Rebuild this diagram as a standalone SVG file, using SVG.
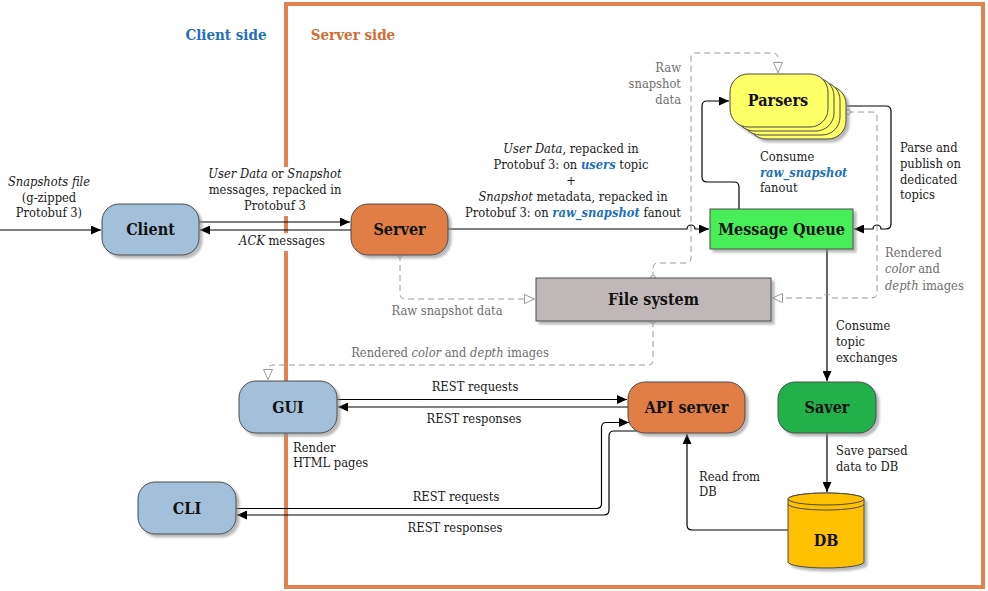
<svg xmlns="http://www.w3.org/2000/svg" width="988" height="591" viewBox="0 0 988 591">
<style>
text{font-family:"DejaVu Serif Condensed","DejaVu Serif",serif;font-stretch:condensed}
.lbl{font-size:12.8px;fill:#1a1a1a}
.gl{font-size:12.8px;fill:#6e6e6e}
.nt{font-size:16px;font-weight:bold;fill:#111;text-anchor:middle}
.ttl{font-size:15px;font-weight:bold}
.mid{text-anchor:middle}
.end{text-anchor:end}
.kw{font-weight:bold;font-style:italic;fill:#1f6fb8}
.node{stroke:#4a4a4a;stroke-width:1}
.blue{fill:#a2c0da}
.orange{fill:#e07e45}
.sol{fill:none;stroke:#000;stroke-width:1.2}
.dash{fill:none;stroke:#9a9a9a;stroke-width:1;stroke-dasharray:6 4}
.dot{fill:#fff;stroke:#9a9a9a;stroke-width:1}
</style>
<defs>
<filter id="sh" x="-10%" y="-10%" width="130%" height="140%">
<feDropShadow dx="3" dy="3" stdDeviation="1" flood-color="#8a8a8a" flood-opacity="0.6"/>
</filter>
<marker id="ah" markerUnits="userSpaceOnUse" markerWidth="11" markerHeight="9" refX="10" refY="4.5" orient="auto">
<path d="M0,0 L10,4.5 L0,9 z" fill="#000"/>
</marker>
<marker id="oh" markerUnits="userSpaceOnUse" markerWidth="12" markerHeight="11" refX="11" refY="5" orient="auto">
<path d="M0.5,0.5 L10.5,5 L0.5,9.5 z" fill="#fff" stroke="#9a9a9a" stroke-width="1"/>
</marker>
</defs>

<rect width="988" height="591" fill="#fff"/>

<g id="server-side-frame">
<path d="M286,167 V4 H983 V587 H286 V251 M286,233 V216" fill="none" stroke="#e2834f" stroke-width="4"/>
<text class="ttl mid" x="226" y="40" fill="#1f70b8">Client side</text>
<text class="ttl mid" x="353" y="40" fill="#d26b35">Server side</text>
</g>

<g id="connectors">
<path class="sol" d="M0,230 H101" marker-end="url(#ah)"/>
<path class="sol" d="M199,222 H350" marker-end="url(#ah)"/>
<path class="sol" d="M351,230 H200" marker-end="url(#ah)"/>
<path class="sol" d="M448,229 H687 A4,4 0 0 1 695,229 H709" marker-end="url(#ah)"/>
<path class="sol" d="M739,209 V187 Q739,182 734,182 H707 Q702,182 702,177 V106 Q702,101 707,101 H729" marker-end="url(#ah)"/>
<path class="sol" d="M847,106 H886 Q891,106 891,111 V224 Q891,229 886,229 H881 A4,4 0 0 0 873,229 H854" marker-end="url(#ah)"/>
<path class="sol" d="M827,249 V381" marker-end="url(#ah)"/>
<path class="sol" d="M827,433 V492" marker-end="url(#ah)"/>
<path class="sol" d="M788,530 H692 Q687,530 687,525 V434" marker-end="url(#ah)"/>
<path class="sol" d="M337,399.5 H627" marker-end="url(#ah)"/>
<path class="sol" d="M628,407 H338" marker-end="url(#ah)"/>
<path class="sol" d="M236,508.5 H596.5 Q601.5,508.5 601.5,503.5 V427.5 Q601.5,422.5 606.5,422.5 H629" marker-end="url(#ah)"/>
<path class="sol" d="M637,431 H614 Q609,431 609,436 V510 Q609,515 604,515 H237" marker-end="url(#ah)"/>

<path class="dash" d="M400,255 V294 Q400,299 405,299 H535" marker-end="url(#oh)"/>
<path class="dash" d="M653,278 V268 Q653,263 658,263 H686 Q691,263 691,258 V58 Q691,53 696,53 H773 Q778,53 778,58 V73" marker-end="url(#oh)"/>
<path class="dash" d="M848,112 H872 Q877,112 877,117 V293 Q877,298 872,298 H831 A4,4 0 0 0 823,298 H772" marker-end="url(#oh)"/>
<path class="dash" d="M653,321 V360 Q653,365 648,365 H273 Q268,365 268,370 V380" marker-end="url(#oh)"/>
<circle class="dot" cx="400" cy="255" r="2.5"/>
<circle class="dot" cx="653" cy="278" r="2.5"/>
<circle class="dot" cx="848" cy="112" r="2.5"/>
<circle class="dot" cx="653" cy="321" r="2.5"/>

<text class="lbl mid" x="49" y="186"><tspan font-style="italic">Snapshots file</tspan></text>
<text class="lbl mid" x="49" y="202">(g-zipped</text>
<text class="lbl mid" x="49" y="217">Protobuf 3)</text>

<text class="lbl mid" x="275" y="178"><tspan font-style="italic">User Data</tspan> or <tspan font-style="italic">Snapshot</tspan></text>
<text class="lbl mid" x="275" y="194">messages, repacked in</text>
<text class="lbl mid" x="275" y="210">Protobuf 3</text>
<text class="lbl mid" x="282" y="245"><tspan font-style="italic">ACK</tspan> messages</text>

<text class="lbl mid" x="571" y="153"><tspan font-style="italic">User Data</tspan>, repacked in</text>
<text class="lbl mid" x="571" y="169">Protobuf 3: on <tspan class="kw">users</tspan> topic</text>
<text class="lbl mid" x="571" y="185" font-size="9">+</text>
<text class="lbl mid" x="573" y="201"><tspan font-style="italic">Snapshot</tspan> metadata, repacked in</text>
<text class="lbl mid" x="573" y="217">Protobuf 3: on <tspan class="kw">raw_snapshot</tspan> fanout</text>

<text class="gl end" x="681" y="72">Raw</text>
<text class="gl end" x="681" y="88">snapshot</text>
<text class="gl end" x="681" y="104">data</text>

<text class="lbl" x="760" y="161">Consume</text>
<text class="lbl" x="760" y="177"><tspan class="kw">raw_snapshot</tspan></text>
<text class="lbl" x="760" y="192">fanout</text>

<text class="lbl" x="900" y="152">Parse and</text>
<text class="lbl" x="900" y="168">publish on</text>
<text class="lbl" x="900" y="184">dedicated</text>
<text class="lbl" x="900" y="199">topics</text>

<text class="gl" x="885" y="257">Rendered</text>
<text class="gl" x="885" y="273"><tspan font-style="italic">color</tspan> and</text>
<text class="gl" x="885" y="290"><tspan font-style="italic">depth</tspan> images</text>

<text class="gl mid" x="447" y="315">Raw snapshot data</text>
<text class="gl mid" x="450" y="357">Rendered <tspan font-style="italic">color</tspan> and <tspan font-style="italic">depth</tspan> images</text>

<text class="lbl" x="836" y="330">Consume</text>
<text class="lbl" x="836" y="346">topic</text>
<text class="lbl" x="836" y="362">exchanges</text>

<text class="lbl" x="836" y="455">Save parsed</text>
<text class="lbl" x="836" y="471">data to DB</text>

<text class="lbl" x="699" y="481">Read from</text>
<text class="lbl" x="699" y="496">DB</text>

<text class="lbl mid" x="475" y="391">REST requests</text>
<text class="lbl mid" x="474" y="423">REST responses</text>
<text class="lbl mid" x="456" y="501">REST requests</text>
<text class="lbl mid" x="455" y="532">REST responses</text>

<text class="lbl" x="293" y="452">Render</text>
<text class="lbl" x="293" y="467">HTML pages</text>
</g>

<g id="client">
<rect class="node blue" x="102" y="204" width="97" height="51" rx="17" filter="url(#sh)"/>
<text class="nt" x="150.5" y="235">Client</text>
</g>
<g id="server">
<rect class="node orange" x="351" y="204" width="97" height="51" rx="17" filter="url(#sh)"/>
<text class="nt" x="399.5" y="235">Server</text>
</g>
<g id="parsers">
<g filter="url(#sh)">
<rect class="node" fill="#ffff66" x="748" y="86" width="98" height="53" rx="18"/>
<rect class="node" fill="#ffff66" x="742" y="82" width="98" height="53" rx="18"/>
<rect class="node" fill="#ffff66" x="736" y="78" width="98" height="53" rx="18"/>
<rect class="node" fill="#ffff66" x="730" y="74" width="98" height="53" rx="18"/>
</g>
<text class="nt" x="778" y="105.5">Parsers</text>
</g>
<g id="message-queue">
<rect class="node" fill="#46ee58" x="710" y="209" width="143" height="40" filter="url(#sh)"/>
<text class="nt" x="781.5" y="234.5" font-size="15.5">Message Queue</text>
</g>
<g id="file-system">
<rect class="node" fill="#c0b8b8" x="536" y="278" width="235" height="43" filter="url(#sh)"/>
<text class="nt" x="653.5" y="305">File system</text>
</g>
<g id="gui">
<rect class="node blue" x="239" y="381" width="98" height="52" rx="17" filter="url(#sh)"/>
<text class="nt" x="288" y="412.5">GUI</text>
</g>
<g id="cli">
<rect class="node blue" x="138" y="482" width="98" height="52" rx="17" filter="url(#sh)"/>
<text class="nt" x="187" y="513.5">CLI</text>
</g>
<g id="api-server">
<rect class="node orange" x="628" y="382" width="117" height="51" rx="17" filter="url(#sh)"/>
<text class="nt" x="686.5" y="413">API server</text>
</g>
<g id="saver">
<rect class="node" fill="#22b04c" x="778" y="382" width="98" height="51" rx="17" filter="url(#sh)"/>
<text class="nt" x="827" y="413">Saver</text>
</g>
<g id="db">
<path class="node" fill="#ffc000" filter="url(#sh)" d="M788,499 A38,6 0 0 1 864,499 V562 A38,6 0 0 1 788,562 Z"/>
<ellipse class="node" fill="#ffc000" cx="826" cy="499" rx="38" ry="6"/>
<path class="node" fill="none" d="M788,504 A38,6 0 0 0 864,504"/>
<text class="nt" x="826" y="546">DB</text>
</g>
</svg>
